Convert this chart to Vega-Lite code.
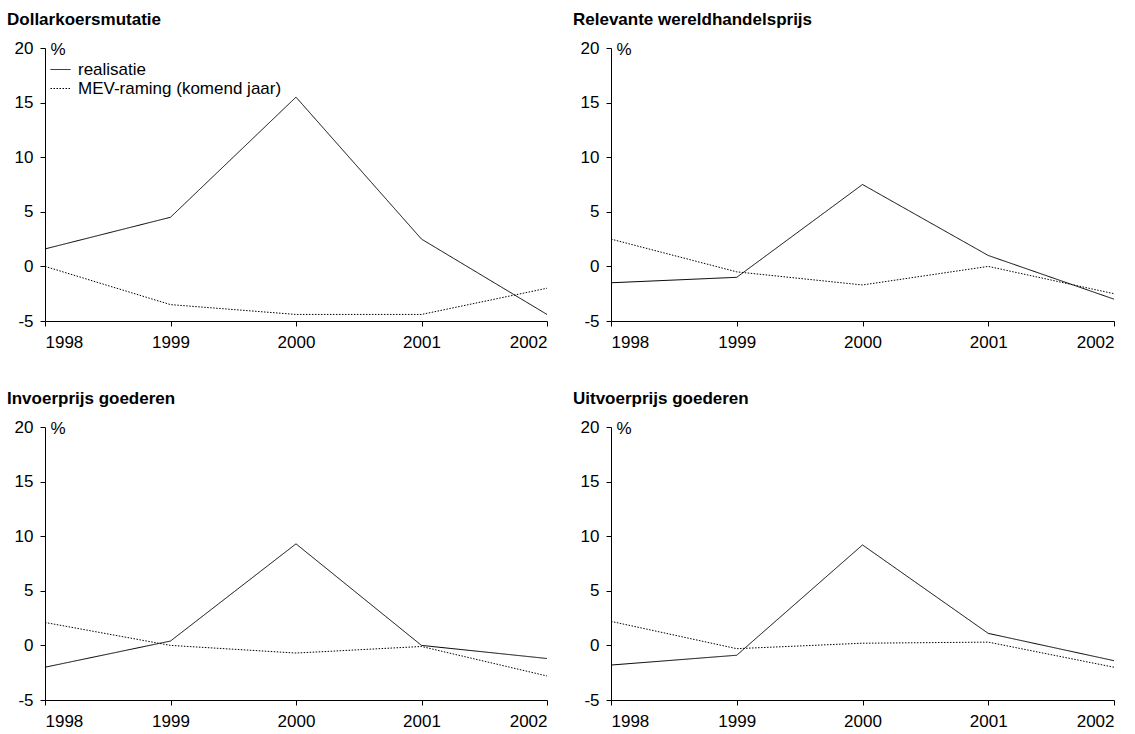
{
  "$schema": "https://vega.github.io/schema/vega-lite/v6.json",
  "padding": {"left": 7, "top": 11, "right": 2, "bottom": 2},
  "background": "white",
  "bounds": "flush",
  "columns": 2,
  "spacing": {"column": 64, "row": 106},
  "config": {
    "view": {"stroke": null},
    "font": "Liberation Sans",
    "axis": {
      "domainColor": "black", "tickColor": "black", "labelColor": "black",
      "labelFont": "Liberation Sans", "labelFontSize": 17, "grid": false,
      "tickSize": 5, "domainWidth": 1, "tickWidth": 1, "titleFont": "Liberation Sans",
      "titleFontWeight": "normal", "titleFontSize": 17, "titleColor": "black"
    },
    "title": {"font": "Liberation Sans", "fontSize": 17, "fontWeight": "bold", "color": "black", "anchor": "start", "frame": "group", "dx": -38, "offset": 10},
    "legend": {"labelFont": "Liberation Sans", "labelFontSize": 17, "labelColor": "black", "labelLimit": 400}
  },
  "data": {"values": [
    {"panel": "Dollarkoersmutatie", "year": 1998, "series": "realisatie", "value": 1.6},
    {"panel": "Dollarkoersmutatie", "year": 1999, "series": "realisatie", "value": 4.5},
    {"panel": "Dollarkoersmutatie", "year": 2000, "series": "realisatie", "value": 15.5},
    {"panel": "Dollarkoersmutatie", "year": 2001, "series": "realisatie", "value": 2.5},
    {"panel": "Dollarkoersmutatie", "year": 2002, "series": "realisatie", "value": -4.4},
    {"panel": "Dollarkoersmutatie", "year": 1998, "series": "MEV-raming (komend jaar)", "value": 0.0},
    {"panel": "Dollarkoersmutatie", "year": 1999, "series": "MEV-raming (komend jaar)", "value": -3.5},
    {"panel": "Dollarkoersmutatie", "year": 2000, "series": "MEV-raming (komend jaar)", "value": -4.4},
    {"panel": "Dollarkoersmutatie", "year": 2001, "series": "MEV-raming (komend jaar)", "value": -4.4},
    {"panel": "Dollarkoersmutatie", "year": 2002, "series": "MEV-raming (komend jaar)", "value": -2.0},
    {"panel": "Relevante wereldhandelsprijs", "year": 1998, "series": "realisatie", "value": -1.5},
    {"panel": "Relevante wereldhandelsprijs", "year": 1999, "series": "realisatie", "value": -1.0},
    {"panel": "Relevante wereldhandelsprijs", "year": 2000, "series": "realisatie", "value": 7.5},
    {"panel": "Relevante wereldhandelsprijs", "year": 2001, "series": "realisatie", "value": 1.0},
    {"panel": "Relevante wereldhandelsprijs", "year": 2002, "series": "realisatie", "value": -3.0},
    {"panel": "Relevante wereldhandelsprijs", "year": 1998, "series": "MEV-raming (komend jaar)", "value": 2.5},
    {"panel": "Relevante wereldhandelsprijs", "year": 1999, "series": "MEV-raming (komend jaar)", "value": -0.5},
    {"panel": "Relevante wereldhandelsprijs", "year": 2000, "series": "MEV-raming (komend jaar)", "value": -1.7},
    {"panel": "Relevante wereldhandelsprijs", "year": 2001, "series": "MEV-raming (komend jaar)", "value": 0.0},
    {"panel": "Relevante wereldhandelsprijs", "year": 2002, "series": "MEV-raming (komend jaar)", "value": -2.5},
    {"panel": "Invoerprijs goederen", "year": 1998, "series": "realisatie", "value": -2.0},
    {"panel": "Invoerprijs goederen", "year": 1999, "series": "realisatie", "value": 0.4},
    {"panel": "Invoerprijs goederen", "year": 2000, "series": "realisatie", "value": 9.3},
    {"panel": "Invoerprijs goederen", "year": 2001, "series": "realisatie", "value": 0.0},
    {"panel": "Invoerprijs goederen", "year": 2002, "series": "realisatie", "value": -1.2},
    {"panel": "Invoerprijs goederen", "year": 1998, "series": "MEV-raming (komend jaar)", "value": 2.1},
    {"panel": "Invoerprijs goederen", "year": 1999, "series": "MEV-raming (komend jaar)", "value": 0.0},
    {"panel": "Invoerprijs goederen", "year": 2000, "series": "MEV-raming (komend jaar)", "value": -0.7},
    {"panel": "Invoerprijs goederen", "year": 2001, "series": "MEV-raming (komend jaar)", "value": -0.1},
    {"panel": "Invoerprijs goederen", "year": 2002, "series": "MEV-raming (komend jaar)", "value": -2.8},
    {"panel": "Uitvoerprijs goederen", "year": 1998, "series": "realisatie", "value": -1.8},
    {"panel": "Uitvoerprijs goederen", "year": 1999, "series": "realisatie", "value": -0.9},
    {"panel": "Uitvoerprijs goederen", "year": 2000, "series": "realisatie", "value": 9.2},
    {"panel": "Uitvoerprijs goederen", "year": 2001, "series": "realisatie", "value": 1.1},
    {"panel": "Uitvoerprijs goederen", "year": 2002, "series": "realisatie", "value": -1.4},
    {"panel": "Uitvoerprijs goederen", "year": 1998, "series": "MEV-raming (komend jaar)", "value": 2.2},
    {"panel": "Uitvoerprijs goederen", "year": 1999, "series": "MEV-raming (komend jaar)", "value": -0.3},
    {"panel": "Uitvoerprijs goederen", "year": 2000, "series": "MEV-raming (komend jaar)", "value": 0.2},
    {"panel": "Uitvoerprijs goederen", "year": 2001, "series": "MEV-raming (komend jaar)", "value": 0.3},
    {"panel": "Uitvoerprijs goederen", "year": 2002, "series": "MEV-raming (komend jaar)", "value": -2.0}
  ]},
  "resolve": {"legend": {"strokeDash": "independent"}, "scale": {"strokeDash": "shared"}},
  "concat": [
    {
      "width": 502, "height": 273,
      "title": {"text": "Dollarkoersmutatie"},
      "transform": [{"filter": "datum.panel === 'Dollarkoersmutatie'"}],
      "mark": {"type": "line", "color": "black", "strokeWidth": 1},
      "encoding": {
        "x": {"field": "year", "type": "quantitative", "scale": {"domain": [1998, 2002]}, "axis": {"values": [1998, 1999, 2000, 2001, 2002], "format": "d", "title": null, "labelPadding": 8}},
        "y": {"field": "value", "type": "quantitative", "scale": {"domain": [-5, 20], "nice": false}, "axis": {"values": [-5, 0, 5, 10, 15, 20], "labelExpr": "datum.value < 0 ? '-' + abs(datum.value) : datum.label", "labelPadding": 7, "title": "%", "titleAngle": 0, "titleAlign": "left", "titleBaseline": "middle", "titleX": 5, "titleY": 1}},
        "strokeDash": {"field": "series", "type": "nominal", "scale": {"domain": ["realisatie", "MEV-raming (komend jaar)"], "range": [[1, 0], [1.5, 1.5]]},
          "legend": {"title": null, "orient": "none", "legendX": 5, "legendY": 11, "symbolType": "stroke", "symbolSize": 400, "symbolStrokeColor": "black", "symbolStrokeWidth": 1, "rowPadding": 0, "labelOffset": 7, "padding": 0}}
      }
    },
    {
      "width": 503, "height": 273,
      "title": {"text": "Relevante wereldhandelsprijs"},
      "transform": [{"filter": "datum.panel === 'Relevante wereldhandelsprijs'"}],
      "mark": {"type": "line", "color": "black", "strokeWidth": 1},
      "encoding": {
        "x": {"field": "year", "type": "quantitative", "scale": {"domain": [1998, 2002]}, "axis": {"values": [1998, 1999, 2000, 2001, 2002], "format": "d", "title": null, "labelPadding": 8}},
        "y": {"field": "value", "type": "quantitative", "scale": {"domain": [-5, 20], "nice": false}, "axis": {"values": [-5, 0, 5, 10, 15, 20], "labelExpr": "datum.value < 0 ? '-' + abs(datum.value) : datum.label", "labelPadding": 7, "title": "%", "titleAngle": 0, "titleAlign": "left", "titleBaseline": "middle", "titleX": 5, "titleY": 1}},
        "strokeDash": {"field": "series", "type": "nominal", "scale": {"domain": ["realisatie", "MEV-raming (komend jaar)"], "range": [[1, 0], [1.5, 1.5]]}, "legend": null}
      }
    },
    {
      "width": 502, "height": 273,
      "title": {"text": "Invoerprijs goederen"},
      "transform": [{"filter": "datum.panel === 'Invoerprijs goederen'"}],
      "mark": {"type": "line", "color": "black", "strokeWidth": 1},
      "encoding": {
        "x": {"field": "year", "type": "quantitative", "scale": {"domain": [1998, 2002]}, "axis": {"values": [1998, 1999, 2000, 2001, 2002], "format": "d", "title": null, "labelPadding": 8}},
        "y": {"field": "value", "type": "quantitative", "scale": {"domain": [-5, 20], "nice": false}, "axis": {"values": [-5, 0, 5, 10, 15, 20], "labelExpr": "datum.value < 0 ? '-' + abs(datum.value) : datum.label", "labelPadding": 7, "title": "%", "titleAngle": 0, "titleAlign": "left", "titleBaseline": "middle", "titleX": 5, "titleY": 1}},
        "strokeDash": {"field": "series", "type": "nominal", "scale": {"domain": ["realisatie", "MEV-raming (komend jaar)"], "range": [[1, 0], [1.5, 1.5]]}, "legend": null}
      }
    },
    {
      "width": 503, "height": 273,
      "title": {"text": "Uitvoerprijs goederen"},
      "transform": [{"filter": "datum.panel === 'Uitvoerprijs goederen'"}],
      "mark": {"type": "line", "color": "black", "strokeWidth": 1},
      "encoding": {
        "x": {"field": "year", "type": "quantitative", "scale": {"domain": [1998, 2002]}, "axis": {"values": [1998, 1999, 2000, 2001, 2002], "format": "d", "title": null, "labelPadding": 8}},
        "y": {"field": "value", "type": "quantitative", "scale": {"domain": [-5, 20], "nice": false}, "axis": {"values": [-5, 0, 5, 10, 15, 20], "labelExpr": "datum.value < 0 ? '-' + abs(datum.value) : datum.label", "labelPadding": 7, "title": "%", "titleAngle": 0, "titleAlign": "left", "titleBaseline": "middle", "titleX": 5, "titleY": 1}},
        "strokeDash": {"field": "series", "type": "nominal", "scale": {"domain": ["realisatie", "MEV-raming (komend jaar)"], "range": [[1, 0], [1.5, 1.5]]}, "legend": null}
      }
    }
  ]
}
